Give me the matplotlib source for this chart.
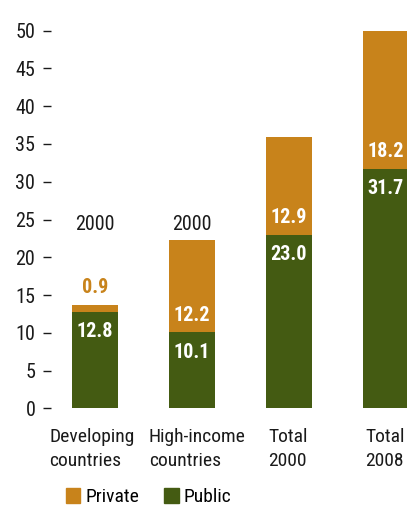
import matplotlib
matplotlib.use("Agg")
import matplotlib.pyplot as plt
from matplotlib.patches import Patch

plt.rcParams["font.family"] = ["Roboto Condensed", "DejaVu Sans"]

categories = ["Developing\ncountries", "High-income\ncountries", "Total\n2000", "Total\n2008"]
public = [12.8, 10.1, 23.0, 31.7]
private = [0.9, 12.2, 12.9, 18.2]
year_tags = ["2000", "2000", "", ""]

# horizontal shift (pixels) of each left-aligned category label from its bar centre
label_dx = [-46, -43, -21, -21]

orange = "#C8831B"
green = "#445B12"
ink = "#1a1a1a"

fig = plt.figure(figsize=(4.07, 5.07), dpi=100)
ax = fig.add_axes([0.1253, 0.1943, 0.931, 0.7752])

x = range(len(categories))
ax.bar(x, public, width=0.474, color=green)
ax.bar(x, private, width=0.474, bottom=public, color=orange)

ax.set_xlim(-0.454, 3.454)
ax.set_ylim(0, 52)
ax.set_yticks(range(0, 51, 5))
for s in ax.spines.values():
    s.set_visible(False)
ax.set_xticks([])
ax.tick_params(axis="y", length=5.8, width=1, pad=5.5, labelsize=14.5, colors=ink)

for i in x:
    top = public[i] + private[i]
    # public share inside the green part
    ax.annotate(f"{public[i]:.1f}", xy=(i, public[i]), xytext=(0, -20),
                textcoords="offset pixels", ha="center", va="center",
                color="white", fontsize=14.5, fontweight="bold")
    # private share: inside the orange part, or above it when it is too thin
    if private[i] < 3:
        ax.annotate(f"{private[i]:.1f}", xy=(i, top), xytext=(0, 17),
                    textcoords="offset pixels", ha="center", va="center",
                    color=orange, fontsize=14.5, fontweight="bold")
    else:
        ax.annotate(f"{private[i]:.1f}", xy=(i, public[i]), xytext=(0, 17),
                    textcoords="offset pixels", ha="center", va="center",
                    color="white", fontsize=14.5, fontweight="bold")
    if year_tags[i]:
        ax.text(i, 24.4, year_tags[i], ha="center", va="center",
                fontsize=14.5, color=ink)
    ax.annotate(categories[i], xy=(i, 0), xytext=(label_dx[i], -20),
                textcoords="offset pixels", ha="left", va="top",
                multialignment="left", fontsize=14, color=ink,
                linespacing=1.42, annotation_clip=False)

handles = [Patch(color=orange, label="Private"), Patch(color=green, label="Public")]
fig.legend(handles=handles, loc="center", bbox_to_anchor=(0.365, 0.019),
           ncol=2, frameon=False, fontsize=14, handlelength=0.75,
           handleheight=0.75, handletextpad=0.25, columnspacing=1.3)

fig.savefig("out.png", dpi=100)
